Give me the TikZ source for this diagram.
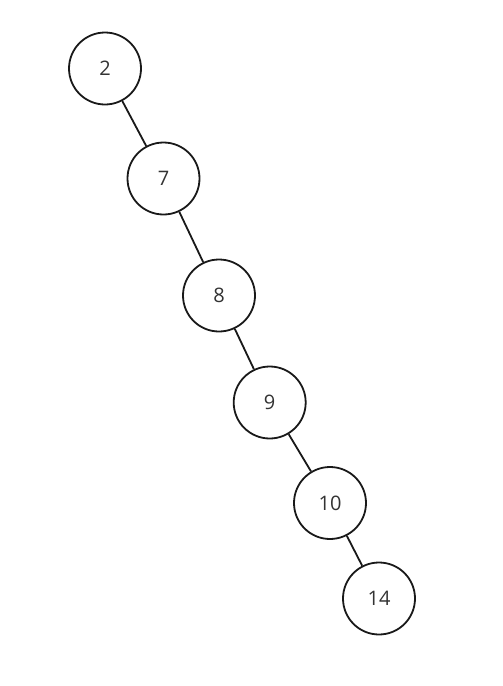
\documentclass[tikz,border=0pt]{standalone}
\usepackage{fontspec}
\setmainfont{Open Sans}
\begin{document}
\begin{tikzpicture}[x=1pt,y=-1pt,
  treenode/.style={circle,draw=black!90,line width=1.8pt,minimum size=72pt,inner sep=0pt,
    font=\fontsize{20}{22}\selectfont,text=black!80},
  edge/.style={draw=black!90,line width=1.8pt}]
\useasboundingbox (0,0) rectangle (503,686);
\node[treenode] (n2) at (105,68.5) {2};
\node[treenode] (n7) at (163.5,178.5) {7};
\node[treenode] (n8) at (219,295.5) {8};
\node[treenode] (n9) at (269.7,402.5) {9};
\node[treenode] (n10) at (330,503) {10};
\node[treenode] (n14) at (379,598.5) {14};
\draw[edge] (n2) -- (n7);
\draw[edge] (n7) -- (n8);
\draw[edge] (n8) -- (n9);
\draw[edge] (n9) -- (n10);
\draw[edge] (n10) -- (n14);
\end{tikzpicture}
\end{document}
